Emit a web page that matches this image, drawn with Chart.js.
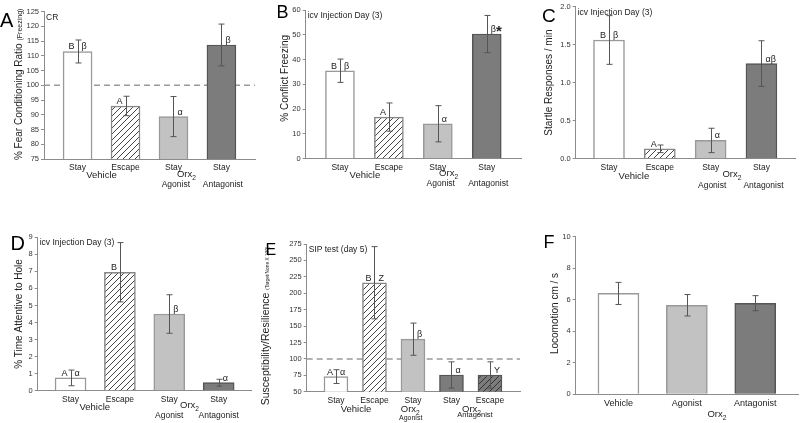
<!DOCTYPE html>
<html>
<head>
<meta charset="utf-8">
<script src="https://cdn.jsdelivr.net/npm/chart.js@4.4.0/dist/chart.umd.min.js"></script>
<style>
  html, body { margin: 0; padding: 0; background: #fff; }
  #fig { position: relative; width: 800px; height: 423px; overflow: hidden; }
  #fig canvas { position: absolute; }
</style>
</head>
<body>
<div id="fig">
  <canvas id="cA"></canvas>
  <canvas id="cB"></canvas>
  <canvas id="cC"></canvas>
  <canvas id="cD"></canvas>
  <canvas id="cE"></canvas>
  <canvas id="cF"></canvas>
</div>
<script>
// ---- data ----
const groupsFour = ['Stay', 'Escape', 'Stay', 'Stay'];
const groupsFive = ['Stay', 'Escape', 'Stay', 'Stay', 'Escape'];
const groupsLoco = ['Vehicle', 'Agonist', 'Antagonist'];

// A: fear conditioning ratio
const fearRatio = [111.5, 93.0, 89.4, 113.7];
const fearRatioErr = [3.9, 3.3, 6.8, 7.1];
const fearLeft = ['B', 'A', '', ''];
const fearRight = ['β', '', 'α', 'β'];

// B: conflict freezing
const conflictFreezing = [35.5, 16.8, 14.1, 50.3];
const conflictErr = [4.7, 5.7, 7.3, 7.5];
const conflictLeft = ['B', 'A', '', ''];
const conflictRight = ['β', '', 'α', 'β'];

// C: startle responses
const startle = [1.56, 0.13, 0.24, 1.25];
const startleErr = [0.32, 0.05, 0.16, 0.30];
const startleLeft = ['B', 'A', '', ''];
const startleRight = ['β', '', 'α', 'αβ'];

// D: time attentive to hole
const attentive = [0.75, 6.95, 4.5, 0.47];
const attentiveErr = [0.46, 1.74, 1.13, 0.2];
const attentiveLeft = ['A', 'B', '', ''];
const attentiveRight = ['α', '', 'β', 'α'];

// E: SIP test
const sip = [73, 216, 130, 75.5, 75.5];
const sipErr = [10.5, 55, 24.5, 20, 20];
const sipLeft = ['A', 'B', '', '', ''];
const sipRight = ['α', 'Z', 'β', 'α', 'Y'];

// F: locomotion
const locomotion = [6.4, 5.65, 5.78];
const locomotionErr = [0.7, 0.68, 0.48];

// ---- styles ----
const AXIS = '#8c8c8c';
const INK = '#222';
const FONT = '"Liberation Sans", Arial, sans-serif';
Chart.defaults.font.family = FONT;

function hatch(bg, line) {
  const c = document.createElement('canvas');
  c.width = 6; c.height = 6;
  const g = c.getContext('2d');
  g.fillStyle = bg; g.fillRect(0, 0, 6, 6);
  g.strokeStyle = line; g.lineWidth = 1;
  g.beginPath();
  g.moveTo(0, 6); g.lineTo(6, 0);
  g.moveTo(-1, 1); g.lineTo(1, -1);
  g.moveTo(5, 7); g.lineTo(7, 5);
  g.stroke();
  return g.createPattern(c, 'repeat');
}

const FILL = { w: '#ffffff', h: hatch('#ffffff', '#444'), l: '#c2c2c2', d: '#7c7c7c', hd: hatch('#7c7c7c', '#333') };
const EDGE = { w: '#999', h: '#888', l: '#999', d: '#555', hd: '#555' };

const panels = [
  { id: 'cA', box: [0, 0, 265, 205], area: [44, 11.7, 255, 159], xr: [0.3, 4.7], bw: 29,
    y: { min: 75, max: 125, step: 5 }, cats: groupsFour, vals: fearRatio, err: fearRatioErr,
    lL: fearLeft, lR: fearRight, kinds: ['w', 'h', 'l', 'd'], ref: 100, note: 'CR',
    title: [['% Fear Conditioning Ratio ', 10], ['(Freezing)', 7]], titleX: -22, titleDy: -1,
    letter: ['A', 0, 27, 20],
    groups: [
      { t: 'Vehicle', at: 1.5, dy: 19.3, size: 9.5 },
      { t: 'Orx', sub: '2', at: 3.27, dy: 17.7, size: 9.5 },
      { t: 'Agonist', at: 3.05, dy: 27.5, size: 8.5 },
      { t: 'Antagonist', at: 4.03, dy: 27.5, size: 8.5 }] },
  { id: 'cB', box: [265, 0, 265, 205], area: [305.7, 10, 521, 158.7], xr: [0.3, 4.7], bw: 29,
    y: { min: 0, max: 60, step: 10 }, cats: groupsFour, vals: conflictFreezing, err: conflictErr,
    lL: conflictLeft, lR: conflictRight, kinds: ['w', 'h', 'l', 'd'], star: 3,
    note: 'icv Injection Day (3)',
    title: [['% Conflict Freezing', 10]], titleX: -17.7, titleDy: -6,
    letter: ['B', 276.5, 18, 18],
    groups: [
      { t: 'Vehicle', at: 1.51, dy: 19.6, size: 9.5 },
      { t: 'Orx', sub: '2', at: 3.22, dy: 17.7, size: 9.5 },
      { t: 'Agonist', at: 3.06, dy: 27.5, size: 8.5 },
      { t: 'Antagonist', at: 4.03, dy: 27.5, size: 8.5 }] },
  { id: 'cC', box: [530, 0, 270, 205], area: [575.7, 4, 795, 158.7], xr: [0.345, 4.66], bw: 31,
    y: { min: 0, max: 2, step: 0.5, fixed: 1 }, cats: groupsFour, vals: startle, err: startleErr,
    lL: startleLeft, lR: startleRight, kinds: ['w', 'h', 'l', 'd'],
    note: 'icv Injection Day (3)',
    title: [['Startle Responses / min', 10]], titleX: -23.7, titleDy: 0,
    letter: ['C', 542, 21.7, 19],
    groups: [
      { t: 'Vehicle', at: 1.49, dy: 20.3, size: 9.5 },
      { t: 'Orx', sub: '2', at: 3.42, dy: 18, size: 9.5 },
      { t: 'Agonist', at: 3.03, dy: 29.6, size: 8.5 },
      { t: 'Antagonist', at: 4.04, dy: 29.6, size: 8.5 }] },
  { id: 'cD', box: [0, 205, 265, 218], area: [37.7, 237.3, 251.5, 390.7], xr: [0.335, 4.665], bw: 31,
    y: { min: 0, max: 9, step: 1 }, cats: groupsFour, vals: attentive, err: attentiveErr,
    lL: attentiveLeft, lR: attentiveRight, kinds: ['w', 'h', 'l', 'd'],
    note: 'icv Injection Day (3)',
    title: [['% Time Attentive to Hole', 10]], titleX: -16.2, titleDy: 0,
    letter: ['D', 10.5, 250, 20],
    groups: [
      { t: 'Vehicle', at: 1.49, dy: 19.3, size: 9.5 },
      { t: 'Orx', sub: '2', at: 3.41, dy: 17, size: 9.5 },
      { t: 'Agonist', at: 3.0, dy: 27.6, size: 8.5 },
      { t: 'Antagonist', at: 4.0, dy: 27.6, size: 8.5 }] },
  { id: 'cE', box: [250, 205, 280, 218], area: [306.7, 244, 520, 391.7], xr: [0.24, 5.78], bw: 24,
    y: { min: 50, max: 275, step: 25 }, cats: groupsFive, vals: sip, err: sipErr,
    lL: sipLeft, lR: sipRight, kinds: ['w', 'h', 'l', 'd', 'hd'], ref: 100,
    note: 'SIP test (day 5)',
    title: [['Susceptibility/Resilience ', 10.5], ['(Target/None X 100)', 4.8]], titleX: -37.7, titleDy: 8,
    letter: ['E', 265.5, 255, 16],
    groups: [
      { t: 'Vehicle', at: 1.52, dy: 20, size: 9.5 },
      { t: 'Orx', sub: '2', at: 2.93, dy: 20, size: 9.5 },
      { t: 'Agonist', at: 2.94, dy: 28.3, size: 7 },
      { t: 'Orx', sub: '2', at: 4.52, dy: 20, size: 9.5 },
      { t: 'Antagonist', at: 4.61, dy: 25.6, size: 7.5 }] },
  { id: 'cF', box: [530, 205, 270, 218], area: [575.7, 236.7, 798, 394.3], xr: [0.375, 3.625], bw: 41,
    y: { min: 0, max: 10, step: 2 }, cats: groupsLoco, vals: locomotion, err: locomotionErr,
    lL: ['', '', ''], lR: ['', '', ''], kinds: ['w', 'l', 'd'], tick: 9,
    title: [['Locomotion cm / s', 10]], titleX: -17.7, titleDy: -2,
    letter: ['F', 543.5, 248, 18],
    groups: [
      { t: 'Orx', sub: '2', at: 2.44, dy: 22.4, size: 9.5 }] }
];

function drawLabel(ctx, g, px, py) {
  ctx.font = g.size + 'px ' + FONT;
  const w1 = ctx.measureText(g.t).width;
  let w2 = 0;
  const subSize = g.size * 0.7;
  if (g.sub) {
    ctx.font = subSize + 'px ' + FONT;
    w2 = ctx.measureText(g.sub).width;
  }
  const x0 = px - (w1 + w2) / 2;
  ctx.textAlign = 'left';
  ctx.font = g.size + 'px ' + FONT;
  ctx.fillText(g.t, x0, py);
  if (g.sub) {
    ctx.font = subSize + 'px ' + FONT;
    ctx.fillText(g.sub, x0 + w1, py + 3);
  }
}

function makePlugin(p) {
  return {
    id: 'panel' + p.id,
    beforeDatasetsDraw(chart) {
      if (p.ref == null) return;
      const { ctx, chartArea: a, scales: { y } } = chart;
      const yy = y.getPixelForValue(p.ref);
      ctx.save();
      ctx.strokeStyle = '#9a9a9a';
      ctx.lineWidth = 1.5;
      ctx.setLineDash([6, 4]);
      ctx.beginPath(); ctx.moveTo(a.left, yy); ctx.lineTo(a.right, yy); ctx.stroke();
      ctx.restore();
    },
    afterDatasetsDraw(chart) {
      const { ctx, scales: { x, y } } = chart;
      ctx.save();
      // error bars
      ctx.strokeStyle = '#555';
      ctx.lineWidth = 1;
      p.vals.forEach((v, i) => {
        const cx = Math.round(x.getPixelForValue(i + 1)) + 0.5;
        const t = y.getPixelForValue(v + p.err[i]);
        const b = y.getPixelForValue(v - p.err[i]);
        ctx.beginPath();
        ctx.moveTo(cx, t); ctx.lineTo(cx, b);
        ctx.moveTo(cx - 3, t); ctx.lineTo(cx + 3, t);
        ctx.moveTo(cx - 3, b); ctx.lineTo(cx + 3, b);
        ctx.stroke();
      });
      // significance letters
      ctx.fillStyle = INK;
      ctx.font = '9px ' + FONT;
      ctx.textBaseline = 'alphabetic';
      p.vals.forEach((v, i) => {
        const cx = x.getPixelForValue(i + 1);
        const top = y.getPixelForValue(v) - 2;
        ctx.textAlign = 'right';
        ctx.fillText(p.lL[i], cx - 3, top);
        ctx.textAlign = 'left';
        ctx.fillText(p.lR[i], cx + 4, top);
        if (p.star === i) {
          const w = ctx.measureText(p.lR[i]).width;
          ctx.font = 'bold 15px ' + FONT;
          ctx.fillText('*', cx + 4 + w, top + 4);
          ctx.font = '9px ' + FONT;
        }
      });
      ctx.restore();
    },
    afterDraw(chart) {
      const { ctx, chartArea: a, scales: { x } } = chart;
      ctx.save();
      ctx.fillStyle = INK;
      ctx.textBaseline = 'alphabetic';
      // group labels under the ticks
      p.groups.forEach(g => drawLabel(ctx, g, x.getPixelForValue(g.at), a.bottom + g.dy));
      // note in the plot corner
      if (p.note) {
        ctx.font = '8.5px ' + FONT;
        ctx.textAlign = 'left';
        ctx.fillText(p.note, a.left + 2, a.top + 8);
      }
      // y title, rotated
      ctx.save();
      ctx.translate(a.left + p.titleX, (a.top + a.bottom) / 2 + p.titleDy);
      ctx.rotate(-Math.PI / 2);
      let total = 0;
      p.title.forEach(([s, sz]) => { ctx.font = sz + 'px ' + FONT; total += ctx.measureText(s).width; });
      let cur = -total / 2;
      ctx.textAlign = 'left';
      p.title.forEach(([s, sz]) => {
        ctx.font = sz + 'px ' + FONT;
        ctx.fillText(s, cur, 0);
        cur += ctx.measureText(s).width;
      });
      ctx.restore();
      // panel letter
      const [L, lx, ly, ls] = p.letter;
      ctx.font = ls + 'px ' + FONT;
      ctx.textAlign = 'left';
      ctx.fillStyle = '#000';
      ctx.fillText(L, lx - p.box[0], ly - p.box[1]);
      ctx.restore();
    }
  };
}

panels.forEach(p => {
  const el = document.getElementById(p.id);
  el.width = p.box[2];
  el.height = p.box[3];
  el.style.left = p.box[0] + 'px';
  el.style.top = p.box[1] + 'px';
  new Chart(el, {
    type: 'bar',
    data: {
      datasets: [{
        data: p.vals.map((v, i) => ({ x: i + 1, y: v })),
        backgroundColor: p.kinds.map(k => FILL[k]),
        borderColor: p.kinds.map(k => EDGE[k]),
        borderWidth: 1.5,
        borderSkipped: 'bottom',
        barThickness: p.bw
      }]
    },
    options: {
      responsive: false,
      animation: false,
      events: [],
      layout: { padding: { left: 0, top: p.area[1] - p.box[1], right: p.box[0] + p.box[2] - p.area[2], bottom: 0 } },
      plugins: { legend: { display: false }, tooltip: { enabled: false } },
      scales: {
        x: {
          type: 'linear',
          min: p.xr[0],
          max: p.xr[1],
          offset: false,
          grid: { display: false, drawTicks: false, tickLength: 0 },
          border: { display: true, color: AXIS, width: 1 },
          afterBuildTicks: s => { s.ticks = p.cats.map((c, i) => ({ value: i + 1 })); },
          afterFit: s => { s.height = p.box[1] + p.box[3] - p.area[3]; },
          ticks: {
            autoSkip: false, maxRotation: 0, padding: 4, color: INK,
            font: { size: p.tick || 8.5 },
            callback: (v, i) => p.cats[i]
          }
        },
        y: {
          min: p.y.min,
          max: p.y.max,
          grid: { drawOnChartArea: false, tickLength: 3, color: AXIS },
          border: { display: true, color: AXIS, width: 1 },
          afterFit: s => { s.width = p.area[0] - p.box[0]; },
          ticks: {
            stepSize: p.y.step, padding: 2, color: '#333',
            font: { size: 7.5 },
            callback: v => p.y.fixed ? v.toFixed(p.y.fixed) : v
          }
        }
      }
    },
    plugins: [makePlugin(p)]
  });
});
</script>
</body>
</html>
